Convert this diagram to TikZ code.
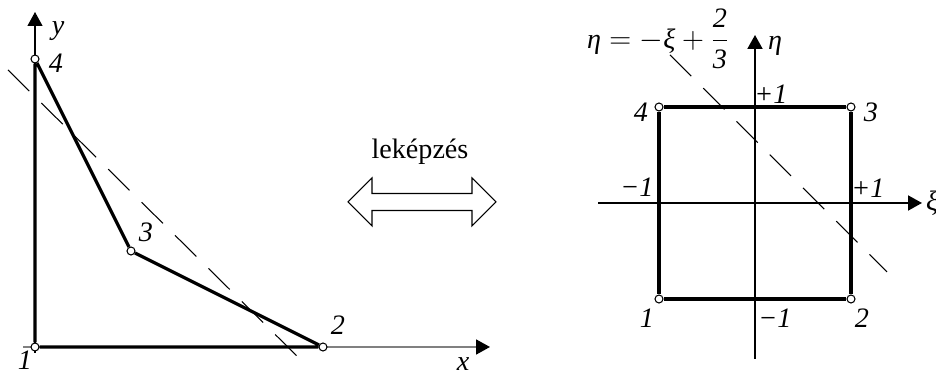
\documentclass[tikz,border=0pt]{standalone}
\usepackage{amsmath}
\usepackage{fontspec}
\setmainfont{Liberation Serif}
\usetikzlibrary{arrows.meta}

\begin{document}
\begin{tikzpicture}[scale=1.0,
    font=\fontsize{16}{19}\selectfont,
    pt/.style={circle, draw, fill=white, line width=0.6pt, inner sep=0pt, minimum size=0.16cm},
    edge/.style={line width=1.9pt},
    axis/.style={-{Triangle[length=0.28cm, width=0.3cm]}},
    cut/.style={dash pattern=on 0.6cm off 0.34cm, line width=0.6pt},
    lbl/.style={font=\fontsize{16}{19}\selectfont\itshape}]

    \useasboundingbox (0,0) rectangle (18.72,7.48);

    % element in the x-y plane (left)
    \coordinate (xa) at (0.46,0.54);
    \coordinate (xb) at (9.80,0.54);
    \coordinate (ya) at (0.70,0.42);
    \coordinate (yb) at (0.70,7.24);
    \draw[gray, line width=1pt, -{Triangle[black, length=0.28cm, width=0.3cm]}] (xa) -- (xb);
    \draw[axis, line width=0.6pt] (ya) -- (yb);

    \coordinate (la) at (0.16,6.08);
    \coordinate (lb) at (6.06,0.24);
    \draw[cut] (la) -- (lb);

    \node[pt] (l1) at (0.70,0.54) {};
    \node[pt] (l2) at (6.46,0.54) {};
    \node[pt] (l3) at (2.62,2.46) {};
    \node[pt] (l4) at (0.70,6.30) {};
    \draw[edge] (l1) -- (l2) -- (l3) -- (l4) -- (l1);

    \node[lbl] (t1) at (0.50,0.28) {1};
    \node[lbl] (t2) at (6.76,0.98) {2};
    \node[lbl] (t3) at (2.92,2.84) {3};
    \node[lbl] (t4) at (1.12,6.22) {4};
    \node[lbl] (tx) at (9.26,0.20) {x};
    \node[lbl] (ty) at (1.16,6.86) {y};

    % mapping arrow
    \node (map) at (8.40,4.44) {leképzés};
    \draw[line width=0.6pt, fill=white] (6.96,3.44) -- (7.44,3.92) -- (7.44,3.61)
        -- (9.44,3.61) -- (9.44,3.92) -- (9.92,3.44) -- (9.44,2.96) -- (9.44,3.27)
        -- (7.44,3.27) -- (7.44,2.96) -- cycle;

    % reference square in the xi-eta plane (right)
    \coordinate (xia) at (11.96,3.42);
    \coordinate (xib) at (18.44,3.42);
    \coordinate (etaa) at (15.10,0.30);
    \coordinate (etab) at (15.10,6.78);
    \draw[axis, line width=1.1pt] (xia) -- (xib);
    \draw[axis, line width=1.1pt] (etaa) -- (etab);

    \coordinate (ra) at (13.40,6.38);
    \coordinate (rb) at (17.74,2.04);
    \draw[cut] (ra) -- (rb);

    \node[pt] (r1) at (13.18,1.50) {};
    \node[pt] (r2) at (17.02,1.50) {};
    \node[pt] (r3) at (17.02,5.34) {};
    \node[pt] (r4) at (13.18,5.34) {};
    \draw[edge] (r1) -- (r2) -- (r3) -- (r4) -- (r1);

    \node[lbl] (s1) at (12.94,1.12) {1};
    \node[lbl] (s2) at (17.24,1.12) {2};
    \node[lbl] (s3) at (17.42,5.24) {3};
    \node[lbl] (s4) at (12.82,5.24) {4};
    \node[lbl] (sxp) at (17.36,3.72) {+1};
    \node[lbl] (sxm) at (12.74,3.74) {−1};
    \node[lbl] (syp) at (15.42,5.60) {+1};
    \node[lbl] (sym) at (15.50,1.12) {−1};
    \node[lbl, anchor=west] (sxi) at (18.40,3.42) {ξ};
    \node[lbl] (seta) at (15.50,6.56) {η};
    \node (eq) at (13.16,6.70) {$\textit{η} = -\textit{ξ} + \dfrac{\textit{2}}{\textit{3}}$};

\end{tikzpicture}
\end{document}
